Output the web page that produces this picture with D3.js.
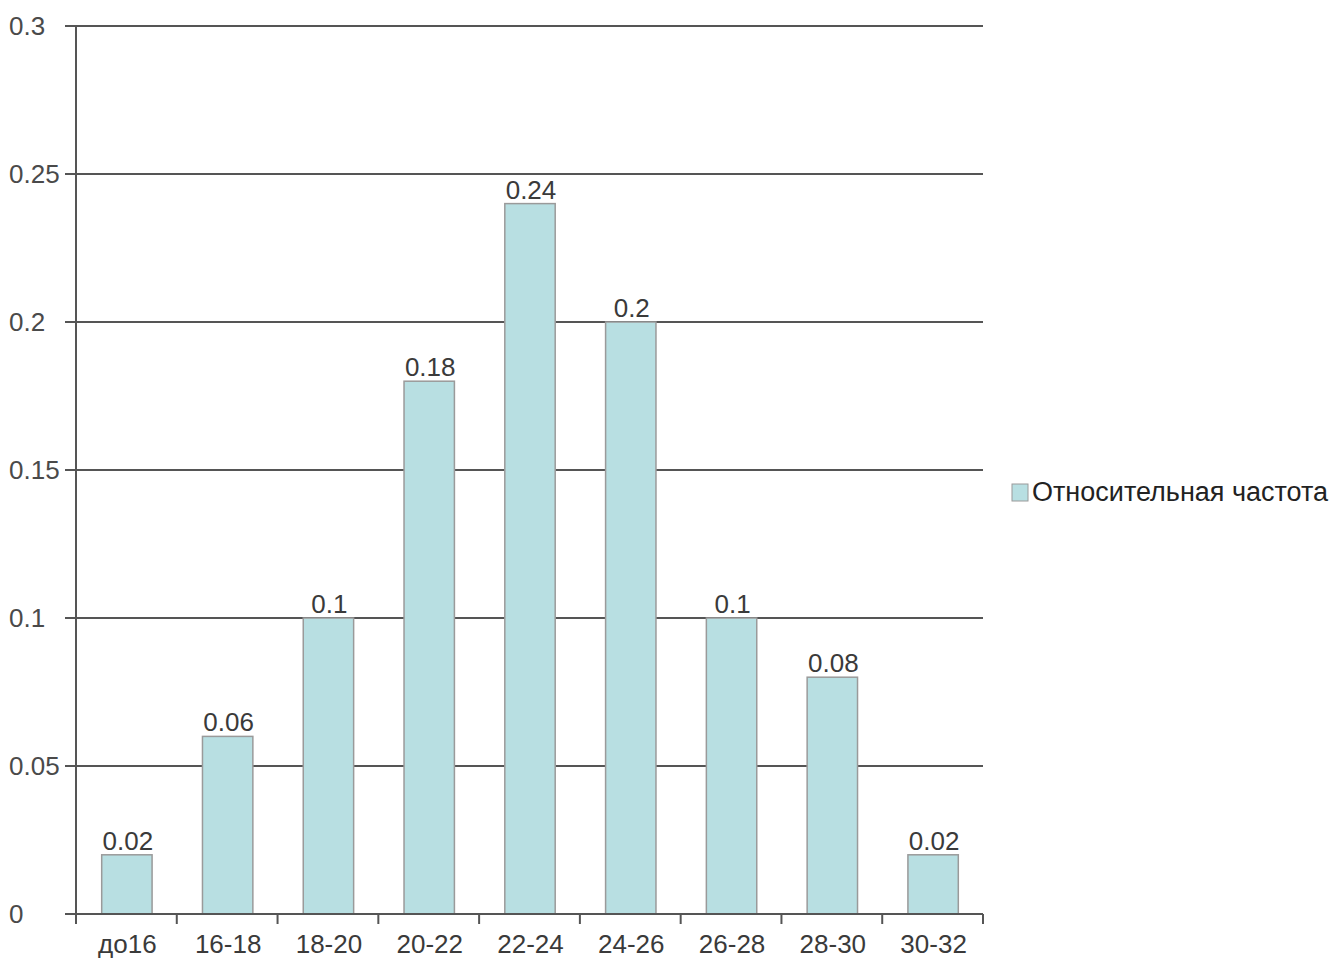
<!DOCTYPE html>
<html>
<head>
<meta charset="utf-8">
<script src="https://cdn.jsdelivr.net/npm/d3@7"></script>
<style>
  html, body { margin: 0; padding: 0; background: #fff; }
  svg { display: block; font-family: "Liberation Sans", Arial, sans-serif; }
</style>
</head>
<body>
<svg id="chart" width="1329" height="959"></svg>
<script>
// Relative frequency by interval
const categories = ["до16", "16-18", "18-20", "20-22", "22-24", "24-26", "26-28", "28-30", "30-32"];
const values = [0.02, 0.06, 0.1, 0.18, 0.24, 0.2, 0.1, 0.08, 0.02];
const valueLabels = ["0.02", "0.06", "0.1", "0.18", "0.24", "0.2", "0.1", "0.08", "0.02"];
const yTicks = [0, 0.05, 0.1, 0.15, 0.2, 0.25, 0.3];
const yTickLabels = ["0", "0.05", "0.1", "0.15", "0.2", "0.25", "0.3"];
const seriesName = "Относительная частота";

const svg = d3.select("#chart");
const plotL = 76, plotR = 983, plotT = 26, plotB = 914;
const fontSize = 26;

const x = d3.scaleBand().domain(categories).range([plotL, plotR]).paddingInner(0.5).paddingOuter(0.25);
const xOuter = d3.scaleBand().domain(categories).range([plotL, plotR]);
const y = d3.scaleLinear().domain([0, 0.3]).range([plotB, plotT]);

// horizontal gridlines with left tick stubs
svg.append("g").selectAll("line").data(yTicks).join("line")
  .attr("x1", plotL - 11).attr("x2", plotR)
  .attr("y1", d => y(d)).attr("y2", d => y(d))
  .attr("stroke", "#555").attr("stroke-width", 2);

// y tick labels, left aligned
svg.append("g").selectAll("text").data(yTicks).join("text")
  .attr("x", 9).attr("y", d => y(d) + 9)
  .attr("text-anchor", "start")
  .attr("font-size", fontSize).attr("fill", "#4a4a4a")
  .text((d, i) => yTickLabels[i]);

// bars
svg.append("g").selectAll("rect").data(values).join("rect")
  .attr("x", (d, i) => x(categories[i]) + 0.5)
  .attr("y", d => y(d))
  .attr("width", x.bandwidth())
  .attr("height", d => plotB - y(d))
  .attr("fill", "#b8dfe2")
  .attr("stroke", "#9a9a9a").attr("stroke-width", 1.5);

// value labels
svg.append("g").selectAll("text").data(values).join("text")
  .attr("x", (d, i) => x(categories[i]) + x.bandwidth() / 2 + 1.5)
  .attr("y", d => y(d) - 5)
  .attr("text-anchor", "middle")
  .attr("font-size", fontSize).attr("fill", "#3a3a3a")
  .text((d, i) => valueLabels[i]);

// y axis line
svg.append("line")
  .attr("x1", plotL).attr("x2", plotL).attr("y1", plotT).attr("y2", plotB + 10)
  .attr("stroke", "#555").attr("stroke-width", 2);

// x axis baseline and ticks
svg.append("line")
  .attr("x1", plotL - 11).attr("x2", plotR).attr("y1", plotB).attr("y2", plotB)
  .attr("stroke", "#555").attr("stroke-width", 2);
const xTickPos = categories.map(c => xOuter(c) + xOuter.bandwidth()).slice(0, -1).concat([plotR]);
svg.append("g").selectAll("line").data(xTickPos).join("line")
  .attr("x1", d => d).attr("x2", d => d)
  .attr("y1", plotB).attr("y2", plotB + 10)
  .attr("stroke", "#555").attr("stroke-width", 2);

// category labels
svg.append("g").selectAll("text").data(categories).join("text")
  .attr("x", c => xOuter(c) + xOuter.bandwidth() / 2 + 1)
  .attr("y", 953)
  .attr("text-anchor", "middle")
  .attr("font-size", fontSize).attr("fill", "#3a3a3a")
  .text(c => c);

// legend
const lg = svg.append("g");
lg.append("rect").attr("x", 1012).attr("y", 484).attr("width", 16).attr("height", 17)
  .attr("fill", "#b8dfe2").attr("stroke", "#9a9a9a").attr("stroke-width", 1);
lg.append("text").attr("x", 1032).attr("y", 501)
  .attr("font-size", 27).attr("fill", "#222").text(seriesName);
</script>
</body>
</html>
